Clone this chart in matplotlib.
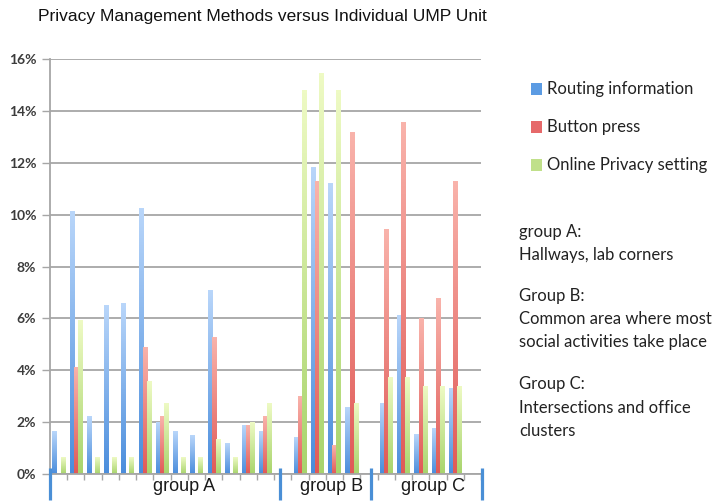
import numpy as np
import matplotlib
matplotlib.use("Agg")
import matplotlib.pyplot as plt
from matplotlib.colors import LinearSegmentedColormap
import matplotlib.transforms as mtransforms

# ---------------- data ----------------
title = "Privacy Management Methods versus Individual UMP Unit"
series_names = ["Routing information", "Button press", "Online Privacy setting"]
group_names = ["group A", "group B", "group C"]

routing_A = [1.65, 10.12, 2.22, 6.48, 6.59, 10.23, 1.99, 1.62, 1.50, 7.06, 1.16, 1.86, 1.62]
button_A = [0.0, 4.11, 0.0, 0.0, 0.0, 4.88, 2.22, 0.0, 0.0, 5.26, 0.0, 1.86, 2.22]
online_A = [0.65, 5.90, 0.65, 0.65, 0.65, 3.56, 2.70, 0.65, 0.65, 1.32, 0.65, 2.00, 2.70]

routing_B = [1.39, 11.80, 11.21, 2.58]
button_B = [2.99, 11.28, 1.10, 13.16]
online_B = [14.78, 15.44, 14.78, 2.70]

routing_C = [2.70, 6.10, 1.51, 1.75, 3.29]
button_C = [9.41, 13.56, 6.01, 6.78, 11.28]
online_C = [3.72, 3.72, 3.38, 3.38, 3.38]

yticks = [0, 2, 4, 6, 8, 10, 12, 14, 16]

notes = [
    ("group A:", 232), ("Hallways, lab corners", 255),
    ("Group B:", 296), ("Common area where most", 319), ("social activities take place", 342),
    ("Group C:", 384), ("Intersections and office", 408), ("clusters", 431),
]

# ---------------- layout / style ----------------
W, H = 724, 504
fig = plt.figure(figsize=(W / 100, H / 100), dpi=100)
ax_left, ax_right, ax_bottom, ax_top = 50, 481, 474, 59
ax = fig.add_axes([ax_left / W, 1 - ax_bottom / H, (ax_right - ax_left) / W, (ax_bottom - ax_top) / H])

routing = [routing_A, routing_B, routing_C]
button = [button_A, button_B, button_C]
online = [online_A, online_B, online_C]

# positions: one empty slot after each group
xpos = []
start = 0
for g in range(3):
    n = len(routing[g])
    xpos.append(np.arange(start, start + n))
    start += n + 1
nslots = start

bw = 0.25
offs = [-0.235, 0.0, 0.235]
top_cols = ["#b9d6fa", "#f9b3ab", "#eefac4"]
bot_cols = ["#4a8ddc", "#e05a57", "#a8d46c"]
legend_cols = ["#5b9be3", "#e6696a", "#c0e08a"]

all_series = [routing, button, online]
patches = []
for s in range(3):
    for g in range(3):
        bars = ax.bar(xpos[g] + offs[s], all_series[s][g], width=bw, color=bot_cols[s],
                      linewidth=0, zorder=2)
        for p in bars:
            patches.append((p, s))

grad = np.linspace(0, 1, 128).reshape(-1, 1)
for p, s in patches:
    h = p.get_height()
    if h <= 0:
        continue
    x0 = p.get_x()
    cmap = LinearSegmentedColormap.from_list("g%d" % s, [bot_cols[s], top_cols[s]])
    ax.imshow(grad, extent=[x0, x0 + p.get_width(), 0, h], origin="lower",
              cmap=cmap, aspect="auto", zorder=2.1, interpolation="bilinear")
    p.set_visible(False)

ax.set_xlim(-0.5, nslots - 0.5)
ax.set_ylim(0, 16)

# grid & spines
ax.set_axisbelow(True)
ax.yaxis.grid(True, color="#a6a6a6", linewidth=1.3)
for sp in ["top", "right"]:
    ax.spines[sp].set_visible(False)
ax.spines["left"].set_color("#a6a6a6")
ax.spines["left"].set_linewidth(1.3)
ax.spines["bottom"].set_color("#a6a6a6")
ax.spines["bottom"].set_linewidth(1.3)

ax.set_yticks(yticks)
ax.set_yticklabels(["%d%%" % v for v in yticks], fontfamily="Lato", fontweight="bold",
                   fontsize=10, color="#3c3c3c")
ax.tick_params(axis="y", length=6, width=1.0, color="#a6a6a6", pad=4)
ax.set_xticks(np.arange(-0.5, nslots, 1.0))
ax.set_xticklabels([])
ax.tick_params(axis="x", length=4, width=1.0, color="#a6a6a6")

# group separators
trans = mtransforms.blended_transform_factory(ax.transData, ax.transAxes)
sep_x = [-0.5, 12.85, 18.1, 24.55]
for sx in sep_x:
    ax.plot([sx, sx], [0.015, -0.062], color="#4a8fd6", linewidth=2.3, transform=trans,
            clip_on=False, solid_capstyle="butt", zorder=5)

label_x = [7.27, 15.86, 21.7]
for gx, name in zip(label_x, group_names):
    ax.text(gx, -0.029, name, transform=trans, ha="center", va="center",
            fontfamily="Liberation Sans", fontsize=13, color="#1a1a1a")

# title
fig.text(262 / W, 1 - 16 / H, title, ha="center", va="center",
         fontfamily="Liberation Sans", fontsize=12.5, color="#111111")

# legend (manual)
leg_y = [89, 127, 165]
for s in range(3):
    fig.patches.append(plt.Rectangle((531 / W, 1 - (leg_y[s] + 5.5) / H), 11 / W, 11 / H,
                                     transform=fig.transFigure, facecolor=legend_cols[s],
                                     edgecolor="none"))
    fig.text(547 / W, 1 - leg_y[s] / H, series_names[s], ha="left", va="center",
             fontfamily="Lato", fontsize=12, color="#222222")

for txt, yy in notes:
    fig.text(519 / W, 1 - yy / H, txt, ha="left", va="center",
             fontfamily="Lato", fontsize=12, color="#222222")

fig.savefig("out.png", dpi=100)
